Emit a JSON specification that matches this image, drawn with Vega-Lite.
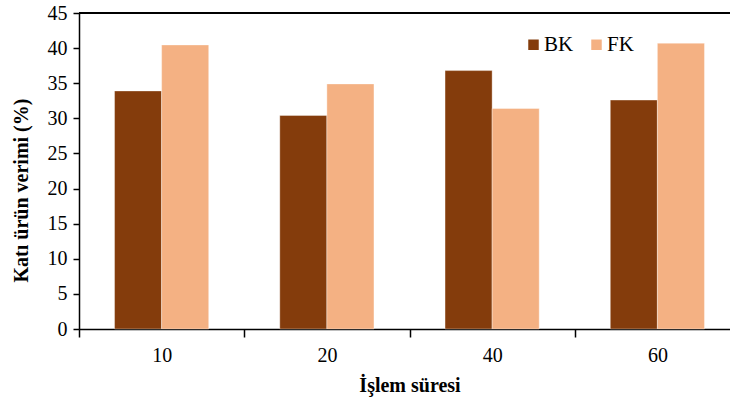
{
  "$schema": "https://vega.github.io/schema/vega-lite/v6.json",
  "width": 651,
  "height": 316,
  "autosize": {"type": "none"},
  "padding": {"left": 79, "top": 13, "right": 0, "bottom": 76},
  "background": "white",
  "config": {
    "view": {"stroke": null},
    "font": "Liberation Serif",
    "axis": {"labelFont": "Liberation Serif", "titleFont": "Liberation Serif", "labelColor": "#000", "titleColor": "#000", "domainColor": "#000", "tickColor": "#000", "grid": false}
  },
  "data": {
    "values": [
      {"sure": "10", "grup": "BK", "verim": 33.9},
      {"sure": "10", "grup": "FK", "verim": 40.45},
      {"sure": "20", "grup": "BK", "verim": 30.4},
      {"sure": "20", "grup": "FK", "verim": 34.9},
      {"sure": "40", "grup": "BK", "verim": 36.8},
      {"sure": "40", "grup": "FK", "verim": 31.4},
      {"sure": "60", "grup": "BK", "verim": 32.6},
      {"sure": "60", "grup": "FK", "verim": 40.7}
    ]
  },
  "layer": [
    {
      "mark": {"type": "bar", "stroke": "#ffffff", "strokeWidth": 0.6, "strokeOpacity": 0.6},
      "encoding": {
        "x": {
          "field": "sure", "type": "nominal", "sort": ["10", "20", "40", "60"],
          "scale": {"range": [0, 661], "paddingInner": 0, "paddingOuter": 0},
          "axis": {
            "title": "İşlem süresi", "titleFontSize": 20, "titleFontWeight": "bold", "titlePadding": 10,
            "labelAngle": 0, "labelFontSize": 20, "labelPadding": 8,
            "tickBand": "extent", "tickSize": 8, "domainWidth": 1.5, "tickWidth": 1.5
          }
        },
        "xOffset": {"field": "grup", "type": "nominal", "scale": {"paddingInner": 0, "paddingOuter": 0.755}},
        "y": {
          "field": "verim", "type": "quantitative",
          "scale": {"domain": [0, 45], "nice": false},
          "axis": {
            "title": "Katı ürün verimi (%)", "titleFontSize": 20, "titleFontWeight": "bold",
            "titleAngle": 270, "titleAlign": "center", "titleBaseline": "middle", "titleX": -58, "titleY": 177,
            "values": [0, 5, 10, 15, 20, 25, 30, 35, 40, 45], "labelOverlap": false, "labelFlush": false,
            "labelFontSize": 20, "labelPadding": 6, "tickSize": 6, "domainWidth": 1.5, "tickWidth": 1.5
          }
        },
        "color": {
          "field": "grup", "type": "nominal",
          "scale": {"domain": ["BK", "FK"], "range": ["#843C0C", "#F4B183"]},
          "legend": {
            "title": null, "orient": "none", "direction": "horizontal", "legendX": 444, "legendY": 21,
            "symbolType": "square", "symbolSize": 110, "symbolStrokeWidth": 0,
            "labelFontSize": 21, "labelFont": "Liberation Serif", "labelColor": "#000", "labelOffset": 0, "columnPadding": 12
          }
        }
      }
    },
    {
      "mark": {"type": "rule", "color": "#000", "strokeWidth": 1.5},
      "encoding": {
        "y": {
          "datum": 45, "type": "quantitative",
          "scale": {"domain": [0, 45], "nice": false},
          "axis": {
            "title": "Katı ürün verimi (%)", "titleFontSize": 20, "titleFontWeight": "bold",
            "titleAngle": 270, "titleAlign": "center", "titleBaseline": "middle", "titleX": -58, "titleY": 177,
            "values": [0, 5, 10, 15, 20, 25, 30, 35, 40, 45], "labelOverlap": false, "labelFlush": false,
            "labelFontSize": 20, "labelPadding": 6, "tickSize": 6, "domainWidth": 1.5, "tickWidth": 1.5
          }
        }
      }
    }
  ]
}
